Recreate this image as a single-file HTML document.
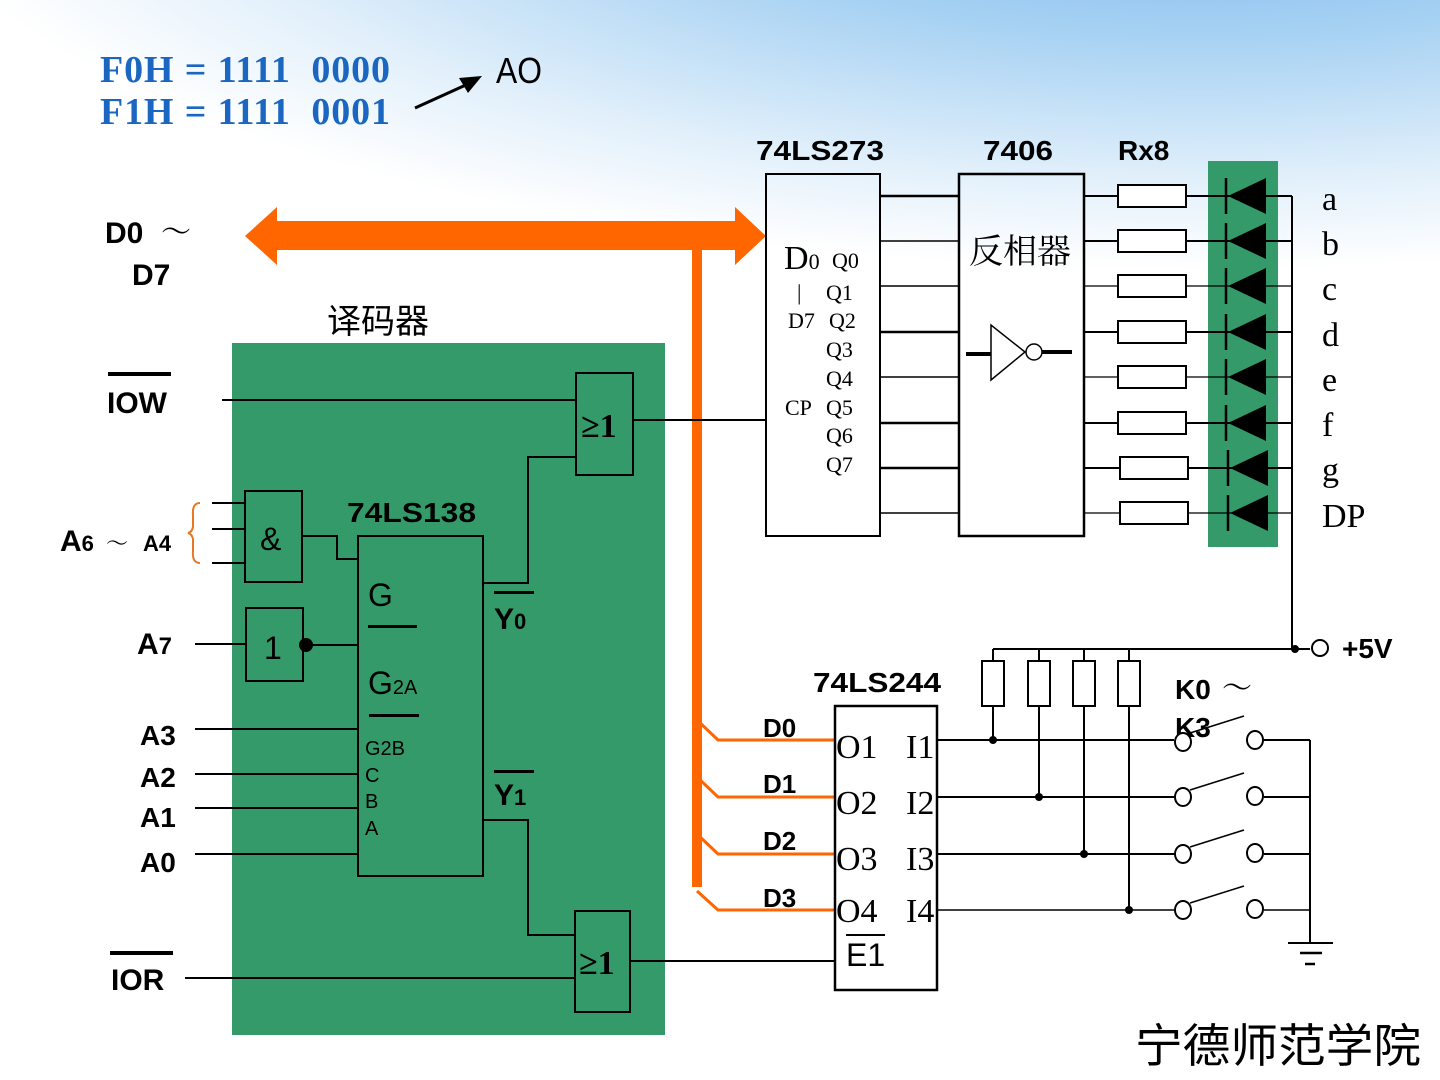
<!DOCTYPE html>
<html><head><meta charset="utf-8"><style>
html,body{margin:0;padding:0;}
body{width:1440px;height:1080px;overflow:hidden;background:#fff;}
svg{display:block;}
.s{font-family:"Liberation Sans","Noto Sans CJK SC",sans-serif;}
.r{font-family:"Liberation Serif","Noto Serif CJK SC",serif;}
</style></head><body>
<svg width="1440" height="1080" viewBox="0 0 1440 1080" xmlns="http://www.w3.org/2000/svg">
<defs>
<radialGradient id="bg" cx="1200" cy="-150" r="1000" gradientUnits="userSpaceOnUse" gradientTransform="translate(1200 -150) scale(1.3 0.42) translate(-1200 150)">
<stop offset="0" stop-color="#6aacea"/><stop offset="0.45" stop-color="#a8d2f3"/><stop offset="0.8" stop-color="#e4f1fb"/><stop offset="1" stop-color="#ffffff"/>
</radialGradient>
</defs>
<rect width="1440" height="1080" fill="#fff"/>
<rect width="1440" height="330" fill="url(#bg)"/>

<!-- top text -->
<text x="100" y="82" class="r" font-size="38" font-weight="bold" fill="#1a66c0" textLength="290" lengthAdjust="spacing" xml:space="preserve">F0H = 1111  0000</text>
<text x="100" y="124" class="r" font-size="38" font-weight="bold" fill="#1a66c0" textLength="290" lengthAdjust="spacing" xml:space="preserve">F1H = 1111  0001</text>
<text x="496" y="83" class="s" font-size="36" fill="#000" textLength="46" lengthAdjust="spacingAndGlyphs">AO</text>
<line x1="415" y1="108" x2="468" y2="84" stroke="#000" stroke-width="3"/>
<polygon points="482,76 459,78 468,93" fill="#000"/>

<!-- green decoder -->
<rect x="232" y="343" width="433" height="692" fill="#359a69"/>
<!-- LED strip -->
<rect x="1208" y="161" width="70" height="386" fill="#359a69"/>

<!-- orange bus -->
<g fill="#ff6600">
<polygon points="245,236 277,207 277,221 735,221 735,207 766,236 735,265 735,250 277,250 277,265"/>
<rect x="692" y="250" width="10" height="637"/>
</g>
<g stroke="#ff6600" stroke-width="3" fill="none">
<polyline points="697,720 718,740 836,740"/>
<polyline points="697,777 718,797 836,797"/>
<polyline points="697,834 718,854 836,854"/>
<polyline points="697,891 718,910 836,910"/>
</g>
<g class="s" font-size="26" font-weight="bold">
<text x="763" y="737">D0</text><text x="763" y="793">D1</text><text x="763" y="850">D2</text><text x="763" y="907">D3</text>
</g>

<!-- labels left -->
<g class="s" font-weight="bold" font-size="30">
<text x="105" y="243">D0</text><text x="132" y="285">D7</text>
<text x="107" y="413">IOW</text>
<text x="111" y="990">IOR</text>
<text x="60" y="551">A<tspan font-size="22">6</tspan></text>
<text x="143" y="551" font-size="22">A4</text>
<text x="137" y="654">A<tspan font-size="24">7</tspan></text>
<text x="140" y="745" font-size="28">A3</text>
<text x="140" y="787" font-size="28">A2</text>
<text x="140" y="827" font-size="28">A1</text>
<text x="140" y="872" font-size="28">A0</text>
</g>
<text x="161" y="242" class="r" font-size="30">～</text>
<text x="106" y="551" class="r" font-size="22">～</text>
<rect x="108" y="372" width="63" height="4" fill="#000"/>
<rect x="110" y="951" width="63" height="4" fill="#000"/>
<path d="M200,503 Q192,503 193,515 L193,527 Q192,532 188,533 Q192,534 193,539 L193,551 Q192,563 200,563" stroke="#e87722" stroke-width="2" fill="none"/>
<text x="327" y="333" class="s" font-size="34">译码器</text>

<!-- decoder wiring -->
<g stroke="#000" stroke-width="2" fill="none">
<line x1="222" y1="400" x2="576" y2="400"/>
<rect x="576" y="373" width="57" height="102"/>
<line x1="633" y1="420" x2="766" y2="420"/>
<polyline points="483,583 528,583 528,457 576,457"/>
<rect x="245" y="491" width="57" height="91"/>
<line x1="212" y1="503" x2="245" y2="503"/>
<line x1="212" y1="529" x2="245" y2="529"/>
<line x1="212" y1="563" x2="245" y2="563"/>
<polyline points="302,536 337,536 337,559 358,559"/>
<rect x="358" y="536" width="125" height="340"/>
<rect x="246" y="608" width="57" height="73"/>
<line x1="195" y1="644" x2="246" y2="644"/>
<line x1="306" y1="645" x2="358" y2="645"/>
<line x1="195" y1="729" x2="358" y2="729"/>
<line x1="195" y1="774" x2="358" y2="774"/>
<line x1="195" y1="808" x2="358" y2="808"/>
<line x1="195" y1="854" x2="358" y2="854"/>
<polyline points="483,820 528,820 528,935 575,935"/>
<rect x="575" y="911" width="55" height="101"/>
<line x1="185" y1="978" x2="575" y2="978"/>
<line x1="630" y1="961" x2="835" y2="961"/>
</g>
<circle cx="306" cy="645" r="7" fill="#000"/>
<text x="581" y="437" class="r" font-size="34" font-weight="bold">≥1</text>
<text x="579" y="974" class="r" font-size="34" font-weight="bold">≥1</text>
<text x="260" y="550" class="s" font-size="32">&amp;</text>
<text x="264" y="659" class="s" font-size="32">1</text>
<text x="347" y="522" class="s" font-size="28" font-weight="bold" textLength="129" lengthAdjust="spacingAndGlyphs">74LS138</text>
<g class="s" fill="#000">
<text x="368" y="606" font-size="32">G</text>
<rect x="368" y="625" width="49" height="3"/>
<text x="368" y="694" font-size="32">G<tspan font-size="20">2A</tspan></text>
<rect x="369" y="714" width="50" height="3"/>
<text x="365" y="755" font-size="20">G2B</text>
<text x="365" y="782" font-size="20">C</text>
<text x="365" y="808" font-size="20">B</text>
<text x="365" y="835" font-size="20">A</text>
<text x="494" y="629" font-size="30" font-weight="bold">Y<tspan font-size="22">0</tspan></text>
<rect x="494" y="591" width="40" height="3"/>
<text x="494" y="805" font-size="30" font-weight="bold">Y<tspan font-size="22">1</tspan></text>
<rect x="494" y="770" width="40" height="3"/>
</g>

<!-- chips top right -->
<g class="s" font-size="28" font-weight="bold">
<text x="756" y="160" textLength="128" lengthAdjust="spacingAndGlyphs">74LS273</text><text x="983" y="160" textLength="70" lengthAdjust="spacingAndGlyphs">7406</text><text x="1118" y="160">Rx8</text>
<text x="813" y="692" textLength="128" lengthAdjust="spacingAndGlyphs">74LS244</text>
<text x="1175" y="699">K0</text><text x="1175" y="737">K3</text>
<text x="1342" y="658">+5V</text>
</g>
<text x="1222" y="698" class="r" font-size="30">～</text>
<g stroke="#000" stroke-width="2" fill="none">
<rect x="766" y="174" width="114" height="362"/>
<rect x="959" y="174" width="125" height="362" stroke-width="2.5"/>
</g>
<g stroke="#000" stroke-width="2.5">
<line x1="880" y1="196" x2="959" y2="196"/><line x1="880" y1="241" x2="959" y2="241" stroke-width="1.5"/>
<line x1="880" y1="286" x2="959" y2="286" stroke-width="1.5"/><line x1="880" y1="332" x2="959" y2="332"/>
<line x1="880" y1="377" x2="959" y2="377" stroke-width="1.5"/><line x1="880" y1="423" x2="959" y2="423"/>
<line x1="880" y1="468" x2="959" y2="468"/><line x1="880" y1="513" x2="959" y2="513" stroke-width="1.5"/>
</g>
<g class="r" fill="#000" font-size="22">
<text x="784" y="269" font-size="34">D<tspan font-size="22">0</tspan></text><text x="832" y="268">Q0</text>
<text x="797" y="300">|</text><text x="826" y="300">Q1</text>
<text x="788" y="328">D7</text><text x="829" y="328">Q2</text>
<text x="826" y="357">Q3</text><text x="826" y="386">Q4</text>
<text x="785" y="415">CP</text><text x="826" y="415">Q5</text>
<text x="826" y="443">Q6</text><text x="826" y="472">Q7</text>
</g>
<text x="969" y="263" class="r" font-size="34">反相器</text>
<g stroke="#000" fill="none" stroke-width="1.5">
<polygon points="991,325 991,380 1025,352"/>
<circle cx="1034" cy="352" r="8"/>
</g>
<line x1="966" y1="354" x2="991" y2="354" stroke="#000" stroke-width="4"/>
<line x1="1042" y1="352" x2="1072" y2="352" stroke="#000" stroke-width="4"/>

<!-- resistors + LEDs -->
<g stroke="#000" stroke-width="2">
<line x1="1084" y1="196" x2="1292" y2="196"/><line x1="1084" y1="241" x2="1292" y2="241"/>
<line x1="1084" y1="286" x2="1292" y2="286" stroke-width="1.2"/><line x1="1084" y1="332" x2="1292" y2="332"/>
<line x1="1084" y1="377" x2="1292" y2="377" stroke-width="1.2"/><line x1="1084" y1="423" x2="1292" y2="423"/>
<line x1="1084" y1="468" x2="1292" y2="468"/><line x1="1084" y1="513" x2="1292" y2="513" stroke-width="1.2"/>
<line x1="1292" y1="196" x2="1292" y2="648"/>
</g>
<g fill="#fff" stroke="#000" stroke-width="2">
<rect x="1118" y="185" width="68" height="22"/><rect x="1118" y="230" width="68" height="22"/>
<rect x="1118" y="275" width="68" height="22"/><rect x="1118" y="321" width="68" height="22"/>
<rect x="1118" y="366" width="68" height="22"/><rect x="1118" y="412" width="68" height="22"/>
<rect x="1120" y="457" width="68" height="22"/><rect x="1120" y="502" width="68" height="22"/>
</g>
<g fill="#000">
<polygon points="1228,196 1266,178 1266,214"/><polygon points="1228,241 1266,223 1266,259"/>
<polygon points="1228,286 1266,268 1266,304"/><polygon points="1228,332 1266,314 1266,350"/>
<polygon points="1228,377 1266,359 1266,395"/><polygon points="1228,423 1266,405 1266,441"/>
<polygon points="1230,468 1268,450 1268,486"/><polygon points="1230,513 1268,495 1268,531"/>
</g>
<g stroke="#000" stroke-width="2.5">
<line x1="1226" y1="178" x2="1226" y2="214"/><line x1="1226" y1="223" x2="1226" y2="259"/>
<line x1="1226" y1="268" x2="1226" y2="304"/><line x1="1226" y1="314" x2="1226" y2="350"/>
<line x1="1226" y1="359" x2="1226" y2="395"/><line x1="1226" y1="405" x2="1226" y2="441"/>
<line x1="1228" y1="450" x2="1228" y2="486"/><line x1="1228" y1="495" x2="1228" y2="531"/>
</g>
<g class="r" font-size="34" fill="#000">
<text x="1322" y="210">a</text><text x="1322" y="255">b</text><text x="1322" y="300">c</text>
<text x="1322" y="346">d</text><text x="1322" y="391">e</text><text x="1322" y="436">f</text>
<text x="1322" y="481">g</text><text x="1322" y="527">DP</text>
</g>

<!-- 244 and switches -->
<g stroke="#000" stroke-width="2" fill="none">
<line x1="993" y1="649" x2="1310" y2="649"/>
<circle cx="1320" cy="648" r="8" fill="#fff"/>
<rect x="835" y="706" width="102" height="284" stroke-width="2.5"/>
<rect x="982" y="661" width="22" height="45"/><rect x="1028" y="661" width="22" height="45"/>
<rect x="1073" y="661" width="22" height="45"/><rect x="1118" y="661" width="22" height="45"/>
<line x1="993" y1="649" x2="993" y2="661"/><line x1="1039" y1="649" x2="1039" y2="661"/>
<line x1="1084" y1="649" x2="1084" y2="661"/><line x1="1129" y1="649" x2="1129" y2="661"/>
<line x1="993" y1="706" x2="993" y2="740"/><line x1="1039" y1="706" x2="1039" y2="797"/>
<line x1="1084" y1="706" x2="1084" y2="854"/><line x1="1129" y1="706" x2="1129" y2="910"/>
<line x1="937" y1="740" x2="1174" y2="740"/><line x1="937" y1="797" x2="1174" y2="797"/>
<line x1="937" y1="854" x2="1174" y2="854"/><line x1="937" y1="910" x2="1174" y2="910" stroke-width="1.5"/>
<line x1="1264" y1="740" x2="1310" y2="740"/><line x1="1264" y1="797" x2="1310" y2="797"/>
<line x1="1264" y1="854" x2="1310" y2="854"/><line x1="1264" y1="910" x2="1310" y2="910" stroke-width="1.5"/>
<line x1="1310" y1="740" x2="1310" y2="943"/>
<line x1="1288" y1="943" x2="1333" y2="943"/>
<line x1="1300" y1="953" x2="1322" y2="953" stroke-width="2.5"/>
<line x1="1305" y1="964" x2="1315" y2="964" stroke-width="2.5"/>
<line x1="1190" y1="733" x2="1244" y2="716" stroke-width="1.5"/>
<line x1="1190" y1="790" x2="1244" y2="773" stroke-width="1.5"/>
<line x1="1190" y1="847" x2="1244" y2="830" stroke-width="1.5"/>
<line x1="1190" y1="903" x2="1244" y2="886" stroke-width="1.5"/>
</g>
<g fill="#fff" stroke="#000" stroke-width="2">
<ellipse cx="1183" cy="742" rx="8" ry="9"/><ellipse cx="1255" cy="740" rx="8" ry="9"/>
<ellipse cx="1183" cy="797" rx="8" ry="9"/><ellipse cx="1255" cy="796" rx="8" ry="9"/>
<ellipse cx="1183" cy="854" rx="8" ry="9"/><ellipse cx="1255" cy="853" rx="8" ry="9"/>
<ellipse cx="1183" cy="910" rx="8" ry="9"/><ellipse cx="1255" cy="909" rx="8" ry="9"/>
</g>
<g fill="#000">
<circle cx="1295" cy="649" r="4"/>
<circle cx="993" cy="740" r="4"/><circle cx="1039" cy="797" r="4"/>
<circle cx="1084" cy="854" r="4"/><circle cx="1129" cy="910" r="4"/>
</g>
<g class="r" font-size="34" fill="#000">
<text x="836" y="758">O1</text><text x="906" y="758">I1</text>
<text x="836" y="814">O2</text><text x="906" y="814">I2</text>
<text x="836" y="870">O3</text><text x="906" y="870">I3</text>
<text x="836" y="922">O4</text><text x="906" y="922">I4</text>
</g>
<text x="846" y="966" class="s" font-size="32">E1</text>
<rect x="846" y="934" width="39" height="2" fill="#000"/>

<text x="1135" y="1062" class="s" font-size="46" textLength="286" lengthAdjust="spacingAndGlyphs">宁德师范学院</text>
</svg>
</body></html>
